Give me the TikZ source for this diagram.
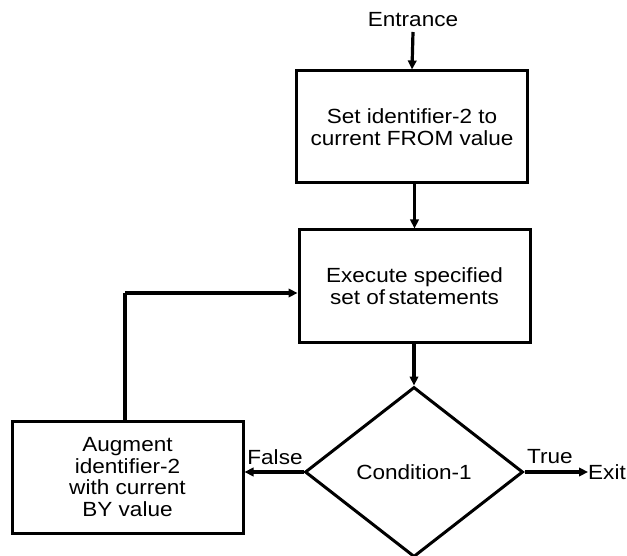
\documentclass[tikz,border=0pt]{standalone}
\usepackage{fontspec}
\setmainfont{Liberation Sans}[FakeStretch=1.1]
\usetikzlibrary{shapes.geometric,arrows.meta}
\begin{document}
\begin{tikzpicture}[x=1pt,y=-1pt,
  txt/.style={font=\fontsize{20.5}{21.5}\selectfont, inner sep=0pt},
  box/.style={draw, line width=3pt, minimum width=231pt, minimum height=112pt, align=center, font=\fontsize{20.5}{21.5}\selectfont, inner sep=0pt},
  cond/.style={draw, diamond, line width=3pt, minimum width=218pt, minimum height=170pt, inner sep=0pt, font=\fontsize{20.5}{21.5}\selectfont},
  arr/.style={line width=3.2pt, -{Triangle[length=9pt,width=8.5pt]}},
  ln/.style={line width=3.2pt}]
\useasboundingbox (0,0) rectangle (627,556);
\node[txt] (ent) at (413,20) {Entrance};
\node[box] (set) at (412,127) {Set identifier-2 to\\current FROM value};
\node[box] (exe) at (414.5,286) {Execute specified\\set of\,statements};
\node[cond] (c1) at (414,472) {Condition-1};
\node[box] (aug) at (127.5,477) {Augment\\identifier-2\\with current\\BY value};
\node[txt, anchor=west] (exit) at (588,472) {Exit};
\node[txt] (tru) at (550,457) {True};
\node[txt] (fal) at (275,457) {False};
\coordinate (lp) at (125,293);
\draw[arr] (ent.south |- 0,32) -- (set.north);
\draw[arr] (set.south -| exe.north) -- (exe.north);
\draw[arr] (exe.south -| c1.north) -- (c1.north);
\draw[arr] (c1.east) -- (exit.west);
\draw[arr] (c1.west) -- (aug.east |- c1.west);
\draw[ln] (lp |- aug.north) -- (lp);
\draw[arr] (lp) -- (lp -| exe.west);
\end{tikzpicture}
\end{document}
